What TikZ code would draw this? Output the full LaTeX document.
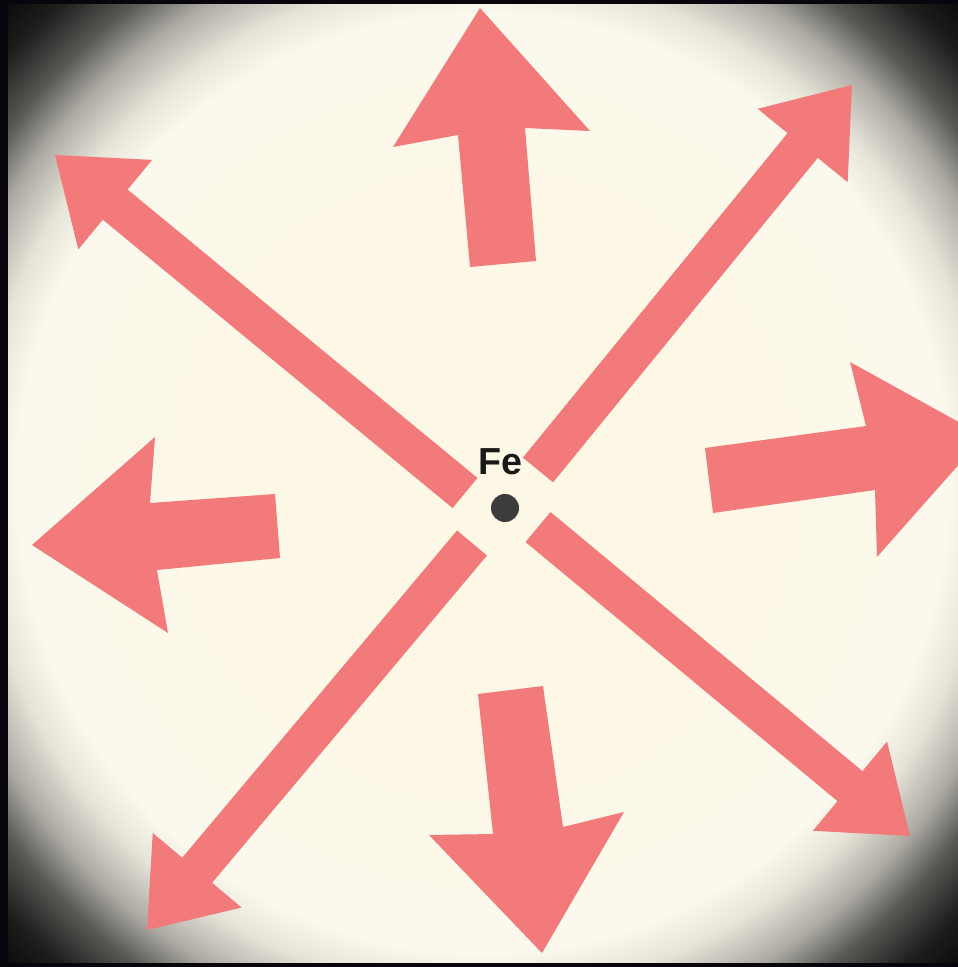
\documentclass[tikz,border=0pt]{standalone}
\usepackage{fontspec}
\setmainfont{Liberation Sans}
\usetikzlibrary{calc}
\definecolor{creamA}{HTML}{FDF8E6}
\definecolor{creamB}{HTML}{FBF9EE}
\definecolor{vgrey1}{HTML}{E6E4D8}
\definecolor{vgrey2}{HTML}{ABA9A2}
\definecolor{vgrey3}{HTML}{5A5956}
\definecolor{vgrey4}{HTML}{1E1E1D}
\definecolor{vblack}{HTML}{060606}
\definecolor{salmon}{HTML}{F27A7A}
\definecolor{dotc}{HTML}{3E3B3D}
\definecolor{framec}{HTML}{08060C}
\pgfdeclareradialshading{vignette}{\pgfpoint{0bp}{0bp}}{color(0bp)=(creamA); color(14bp)=(creamA); color(24.5bp)=(creamB); color(26.5bp)=(vgrey1); color(29bp)=(vgrey2); color(31bp)=(vgrey3); color(33.5bp)=(vgrey4); color(36bp)=(vblack); color(50bp)=(vblack)}
\tikzset{
  arrowfill/.style={fill=salmon},
  fetext/.style={inner sep=0pt, text=black!90, font=\bfseries\fontsize{10.7}{12}\selectfont},
  fedot/.style={circle, fill=dotc, inner sep=0pt, minimum size=0.28cm}
}
\newcommand{\diagarrow}[2]{%
  \coordinate (bm) at ($(#2)!0.78cm!(#1)$);
  \fill[arrowfill] ($(#1)!0.195cm!90:(#2)$) -- ($(bm)!0.195cm!90:(#2)$) -- ($(bm)!0.58cm!90:(#2)$) -- (#2)
    -- ($(bm)!0.58cm!-90:(#2)$) -- ($(bm)!0.195cm!-90:(#2)$) -- ($(#1)!0.195cm!-90:(#2)$) -- cycle;
}
\begin{document}
\begin{tikzpicture}[x=0.01cm, y=-0.01cm]
\useasboundingbox (0,0) rectangle (958,967);
\fill[framec] (0,0) rectangle (958,967);
\shade[shading=vignette] (8,5) rectangle (958,962);
\begin{scope}
\clip (8,5) rectangle (958,962);
% up
\fill[arrowfill] (480,8) -- (590,131) -- (525,128) -- (536,261) -- (470,267) -- (458,135) -- (393,147) -- cycle;
% right
\fill[arrowfill] (984,436) -- (877,557) -- (875,490) -- (713,513) -- (705,448) -- (866,426) -- (850,362) -- cycle;
% left
\fill[arrowfill] (32,545) -- (155,437) -- (150,503) -- (275,494) -- (280,558) -- (157,570) -- (168,633) -- cycle;
% down
\fill[arrowfill] (478,694) -- (543,686) -- (563,827) -- (624,812) -- (542,953) -- (429,835) -- (493,834) -- cycle;
% diagonals
\coordinate (nwT) at (465,493); \coordinate (nwP) at (55,155);
\coordinate (neT) at (538,470); \coordinate (neP) at (852,85);
\coordinate (seT) at (538,527); \coordinate (seP) at (910,836);
\coordinate (swT) at (472,543); \coordinate (swP) at (147,930);
\diagarrow{nwT}{nwP}
\diagarrow{neT}{neP}
\diagarrow{seT}{seP}
\diagarrow{swT}{swP}
\end{scope}
\node[fedot] (dot) at (505,508) {};
\node[fetext] (fe) at (500,462) {Fe};
\end{tikzpicture}
\end{document}
